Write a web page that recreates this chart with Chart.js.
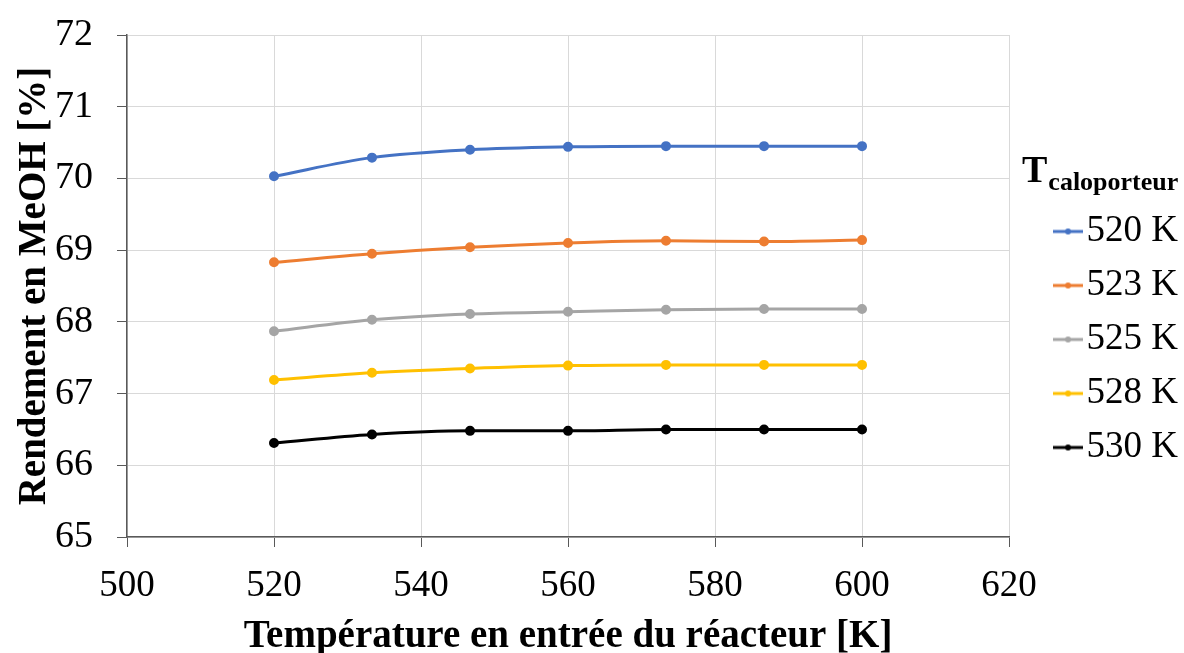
<!DOCTYPE html>
<html>
<head>
<meta charset="utf-8">
<script src="https://cdn.jsdelivr.net/npm/chart.js@4"></script>
<style>
  html, body { margin: 0; padding: 0; background: #fff; }
  #wrap { width: 1184px; height: 653px; position: relative; }
</style>
</head>
<body>
<div id="wrap"><canvas id="lineChart"></canvas></div>
<script>
// Temperatures en entree du reacteur [K]
const xVals = [520, 533.33, 546.67, 560, 573.33, 586.67, 600];
// Rendement en MeOH [%] pour chaque T caloporteur
const s520 = [70.03, 70.29, 70.40, 70.44, 70.45, 70.45, 70.45];
const s523 = [68.83, 68.95, 69.04, 69.10, 69.13, 69.12, 69.14];
const s525 = [67.87, 68.03, 68.11, 68.14, 68.17, 68.18, 68.18];
const s528 = [67.19, 67.29, 67.35, 67.39, 67.40, 67.40, 67.40];
const s530 = [66.31, 66.43, 66.48, 66.48, 66.50, 66.50, 66.50];
const seriesLabels = ['520 K', '523 K', '525 K', '528 K', '530 K'];
const seriesColors = ['#4472C4', '#ED7D31', '#A5A5A5', '#FFC000', '#000000'];

const FONT = "'Liberation Serif', 'DejaVu Serif', serif";

// petit symbole de legende : trait + point
function legendMark(color) {
  const c = document.createElement('canvas');
  c.width = 30; c.height = 10;
  const g = c.getContext('2d');
  g.strokeStyle = color;
  g.lineWidth = 3;
  g.beginPath(); g.moveTo(0, 5); g.lineTo(30, 5); g.stroke();
  g.fillStyle = color;
  g.beginPath(); g.arc(15, 5, 3, 0, Math.PI * 2); g.fill();
  return c;
}
const marks = seriesColors.map(legendMark);

const allSeries = [s520, s523, s525, s528, s530];
const datasets = allSeries.map((vals, i) => ({
  label: seriesLabels[i],
  data: vals.map((v, j) => ({ x: xVals[j], y: v })),
  borderColor: seriesColors[i],
  backgroundColor: seriesColors[i],
  borderWidth: 3,
  pointRadius: 3.5,
  pointHoverRadius: 4,
  cubicInterpolationMode: 'monotone'
}));

// decale la legende vers la droite et ecrit le titre T_caloporteur
const legendTweak = {
  id: 'legendTweak',
  afterLayout(chart) {
    const lg = chart.legend;
    const dx = 1051 - lg.left;
    lg.left += dx;
    lg.right += dx;
  },
  afterDraw(chart) {
    const lg = chart.legend;
    if (!lg || !lg.legendHitBoxes.length) return;
    const top = lg.legendHitBoxes[0].top;
    const c = chart.ctx;
    c.save();
    c.fillStyle = '#000';
    c.textBaseline = 'alphabetic';
    c.textAlign = 'left';
    const x0 = 1022, y0 = top - 31;
    c.font = 'bold 38px ' + FONT;
    c.fillText('T', x0, y0);
    const w = c.measureText('T').width;
    c.font = 'bold 26px ' + FONT;
    c.fillText('caloporteur', x0 + w + 1, y0 + 8);
    c.restore();
  }
};

const ctx = document.getElementById('lineChart').getContext('2d');
new Chart(ctx, {
  type: 'line',
  data: { datasets: datasets },
  options: {
    responsive: true,
    maintainAspectRatio: false,
    animation: false,
    layout: { padding: { top: 35, right: 38, left: 0, bottom: 0 } },
    plugins: {
      legend: {
        position: 'right',
        align: 'start',
        title: { display: true, text: ' ', font: { size: 40 }, padding: { top: 100, bottom: 13 } },
        labels: {
          usePointStyle: true,
          pointStyleWidth: 0.01,
          boxHeight: 10,
          padding: 17,
          color: '#000',
          font: { family: FONT, size: 37 },
          generateLabels(chart) {
            const items = Chart.defaults.plugins.legend.labels.generateLabels(chart);
            items.forEach((it, i) => { it.pointStyle = marks[i]; });
            return items;
          }
        }
      },
      tooltip: { enabled: false }
    },
    scales: {
      x: {
        type: 'linear',
        min: 500,
        max: 620,
        ticks: { stepSize: 20, color: '#000', padding: 17, font: { family: FONT, size: 37 } },
        grid: { color: '#d9d9d9', lineWidth: 1, tickColor: '#595959', tickLength: 10 },
        border: { color: '#595959', width: 1.5 },
        title: {
          display: true,
          text: 'Température en entrée du réacteur [K]',
          color: '#000',
          font: { family: FONT, size: 39, weight: 'bold' },
          padding: { top: 0, bottom: -7 }
        },
        afterFit(s) { s.height = 116; }
      },
      y: {
        min: 65,
        max: 72,
        ticks: { stepSize: 1, color: '#000', padding: 24, font: { family: FONT, size: 38 } },
        grid: { color: '#d9d9d9', lineWidth: 1, tickColor: '#595959', tickLength: 10 },
        border: { color: '#595959', width: 1.5 },
        title: {
          display: true,
          text: 'Rendement en MeOH [%]',
          color: '#000',
          font: { family: FONT, size: 39, weight: 'bold' },
          padding: { top: 12, bottom: 0 }
        },
        afterFit(s) { s.width = 127; s.paddingTop = 0; s.paddingBottom = 0; }
      }
    }
  },
  plugins: [legendTweak]
});
</script>
</body>
</html>
